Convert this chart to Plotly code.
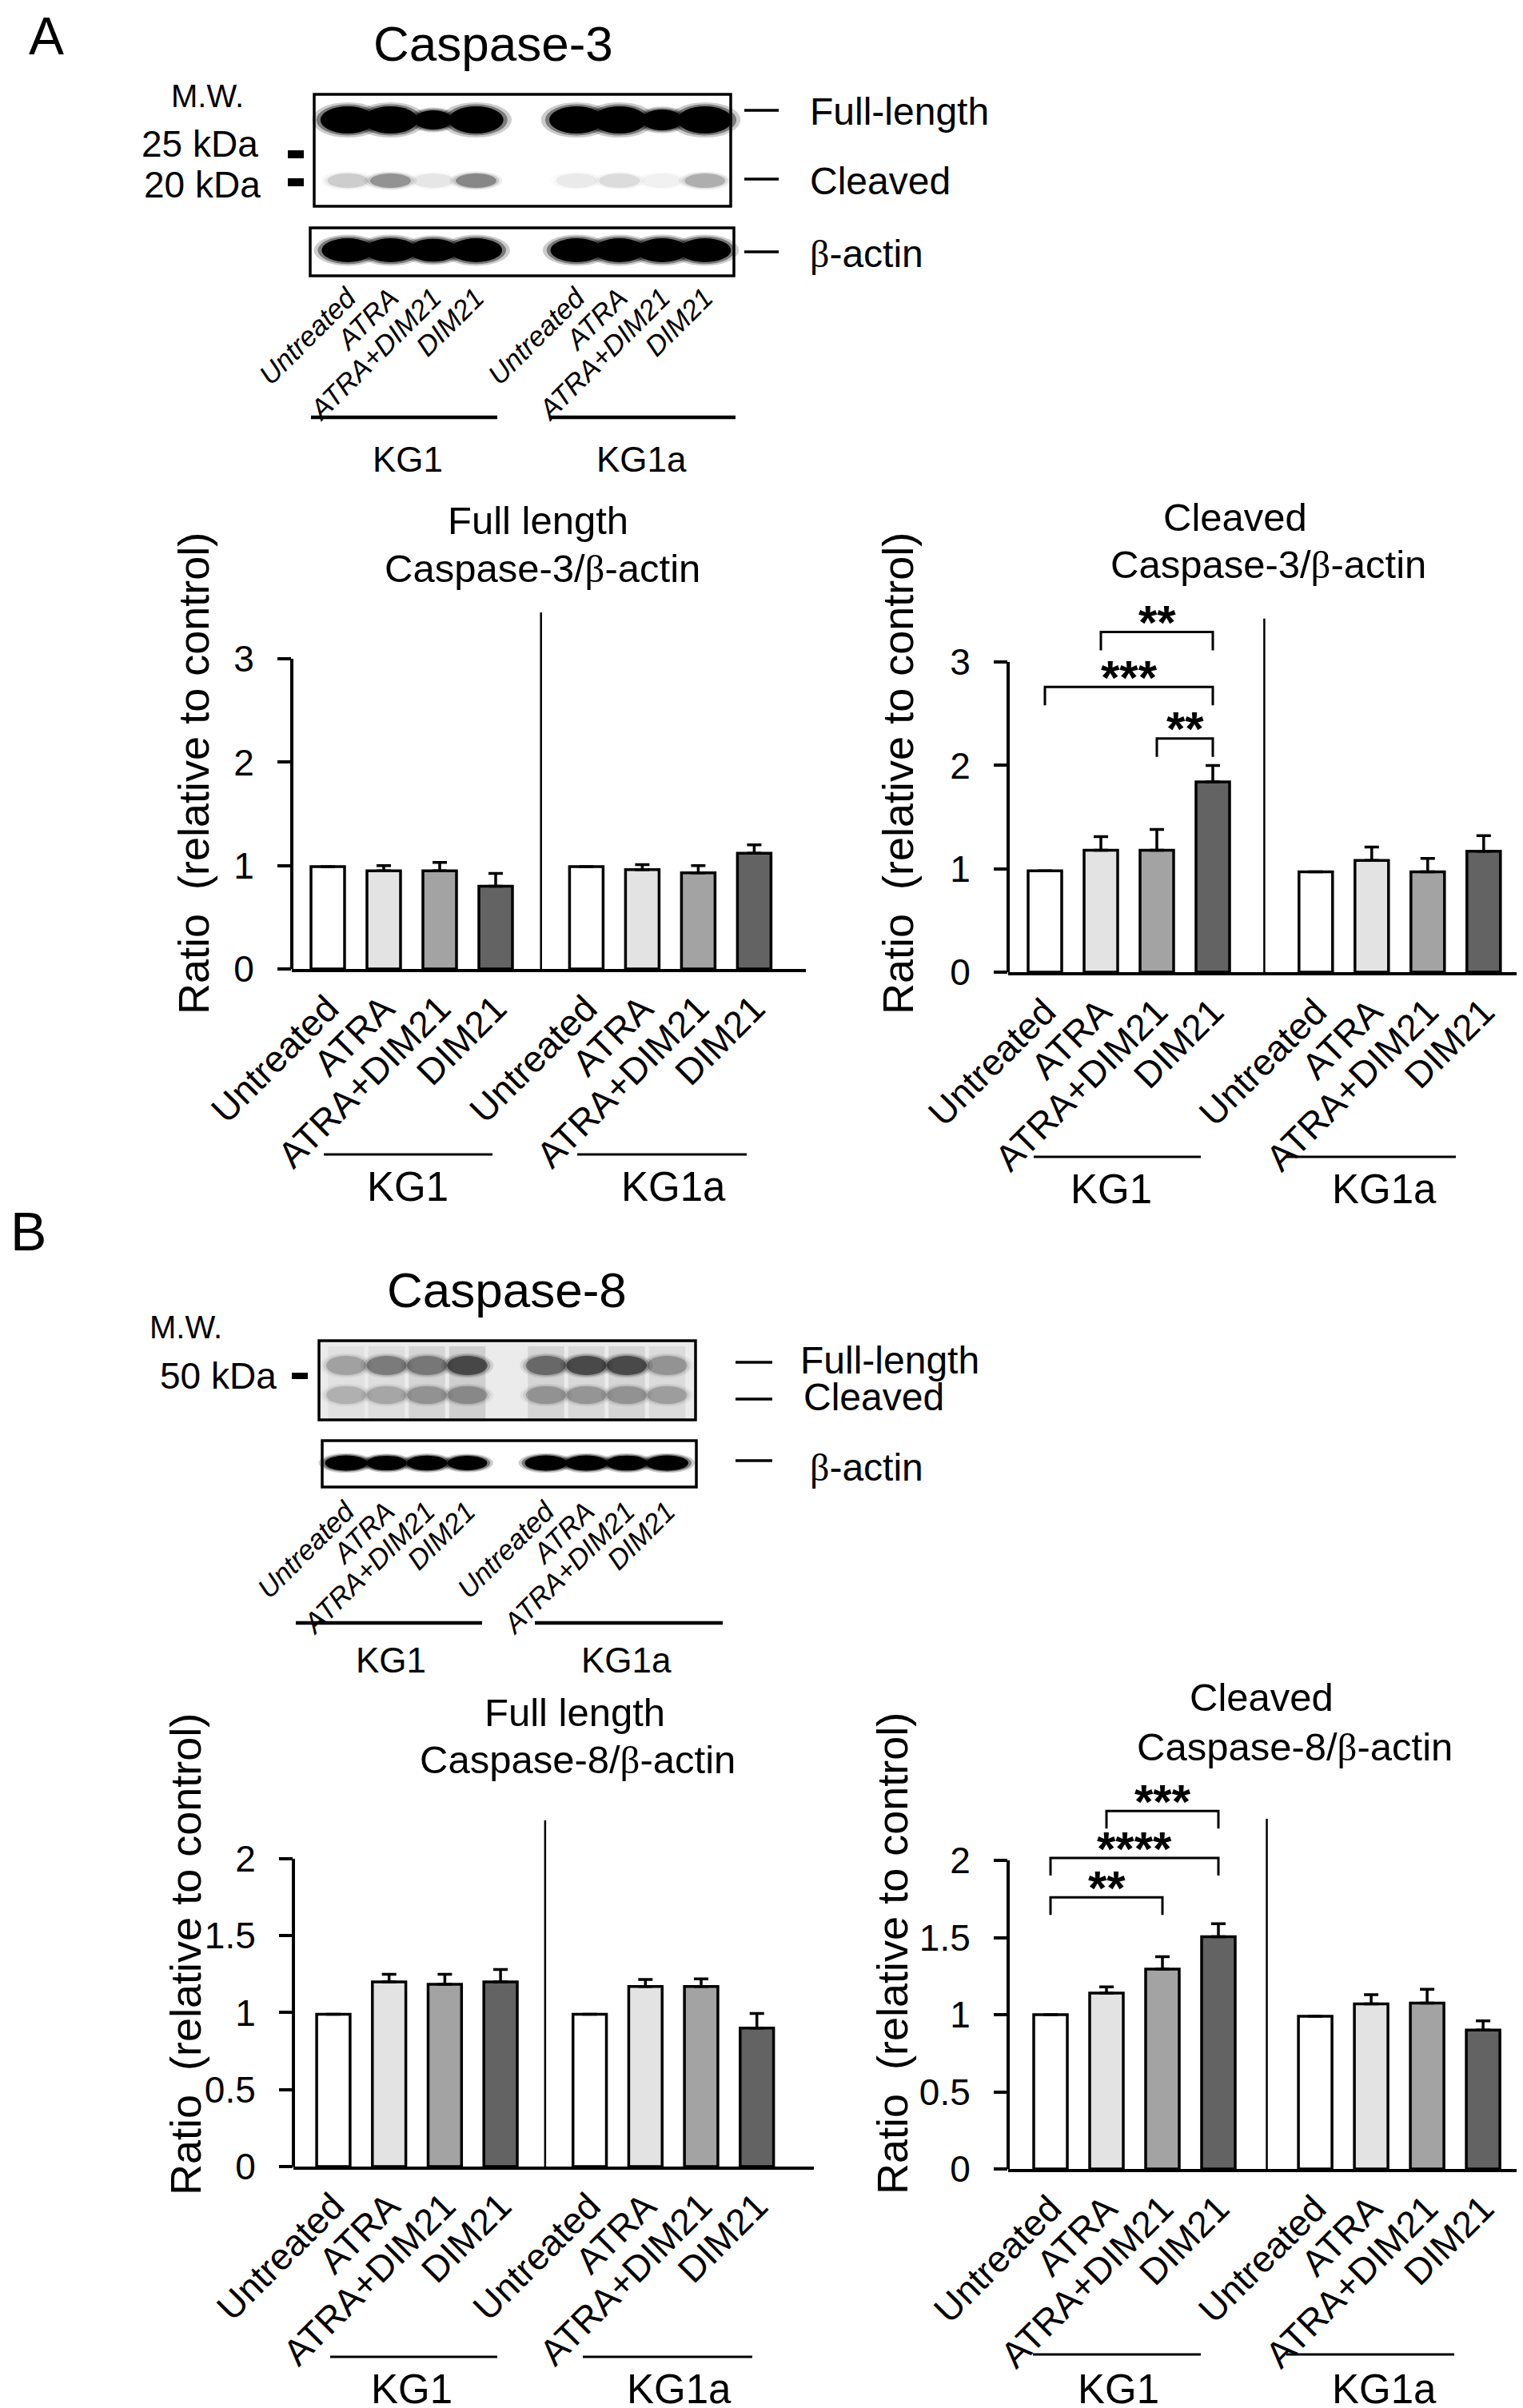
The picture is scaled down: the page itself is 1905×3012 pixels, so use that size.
import plotly.graph_objects as go

# Page size of the figure (px).
W, H = 1905, 3012
FONT = "Liberation Sans, Arial, Helvetica, sans-serif"
BETA = '<span style="font-family:Liberation Serif, serif">β</span>'

TREATMENTS = ["Untreated", "ATRA", "ATRA+DIM21", "DIM21"]
CELL_LINES = ["KG1", "KG1a"]
BAR_COLORS = ["#ffffff", "#e3e3e3", "#a3a3a3", "#636363"]

# Quantification, ratio relative to control (mean and upper error).
c3_full_kg1 = [0.99, 0.95, 0.95, 0.80]
c3_full_kg1_err = [0, 0.05, 0.08, 0.125]
c3_full_kg1a = [0.99, 0.96, 0.93, 1.12]
c3_full_kg1a_err = [0, 0.05, 0.07, 0.08]

c3_cleaved_kg1 = [0.98, 1.18, 1.18, 1.84]
c3_cleaved_kg1_err = [0, 0.13, 0.20, 0.16]
c3_cleaved_kg1a = [0.97, 1.08, 0.97, 1.17]
c3_cleaved_kg1a_err = [0, 0.13, 0.13, 0.15]

c8_full_kg1 = [0.99, 1.20, 1.185, 1.20]
c8_full_kg1_err = [0, 0.05, 0.065, 0.08]
c8_full_kg1a = [0.99, 1.17, 1.17, 0.90]
c8_full_kg1a_err = [0, 0.045, 0.05, 0.095]

c8_cleaved_kg1 = [1.0, 1.14, 1.295, 1.505]
c8_cleaved_kg1_err = [0, 0.04, 0.08, 0.085]
c8_cleaved_kg1a = [0.99, 1.07, 1.075, 0.90]
c8_cleaved_kg1a_err = [0, 0.06, 0.09, 0.06]

# Significance brackets inside KG1: (bar a, bar b, bracket height, stars).
c3_cleaved_sig = [(1, 3, 3.29, "**"), (0, 3, 2.76, "***"), (2, 3, 2.26, "**")]
c8_cleaved_sig = [(1, 3, 2.32, "***"), (0, 3, 2.015, "****"), (0, 2, 1.76, "**")]

# Western blot band intensities, 8 lanes (KG1 x4, KG1a x4).
c3_blot_full = [1.0, 1.0, 0.75, 1.0, 1.0, 1.0, 0.8, 1.0]
c3_blot_cleaved = [0.15, 0.35, 0.07, 0.4, 0.06, 0.1, 0.04, 0.25]
c3_blot_actin = [1.0, 1.0, 0.95, 1.0, 1.0, 1.0, 1.0, 1.0]

c8_blot_full = [0.3, 0.5, 0.5, 0.85, 0.6, 0.85, 0.85, 0.35]
c8_blot_cleaved = [0.3, 0.35, 0.45, 0.5, 0.45, 0.45, 0.45, 0.4]
c8_blot_smear = [0.15, 0.2, 0.35, 0.45, 0.35, 0.3, 0.35, 0.25]
c8_blot_actin = [1.0, 0.85, 0.9, 0.8, 1.0, 1.0, 0.95, 1.0]


def fx(p):
    return p / W


def fy(p):
    return 1 - p / H


shapes = []
annotations = []
axes = {}

fig = go.Figure()


def txt(x, y, text, size, xanchor="center", yanchor="middle", **kw):
    annotations.append(
        dict(
            x=fx(x), y=fy(y), xref="paper", yref="paper", text=text,
            showarrow=False, xanchor=xanchor, yanchor=yanchor,
            font=dict(size=size, family=FONT, color="black"), **kw,
        )
    )


def hline(x0, x1, y, width):
    shapes.append(dict(type="line", xref="paper", yref="paper",
                       x0=fx(x0), x1=fx(x1), y0=fy(y), y1=fy(y),
                       line=dict(color="black", width=width)))


def box(x0, y0, x1, y1, fill="rgba(0,0,0,0)", width=3.5):
    shapes.append(dict(type="rect", xref="paper", yref="paper",
                       x0=fx(x0), x1=fx(x1), y0=fy(y0), y1=fy(y1),
                       fillcolor=fill, line=dict(color="black", width=width)))


def bar_panel(n, kg1, kg1_err, kg1a, kg1a_err, yticks, geo, sig=()):
    xid = "x" if n == 1 else f"x{n}"
    yid = "y" if n == 1 else f"y{n}"
    pos = [i for i in range(4)] + [3 + geo["gap"] + i for i in range(4)]

    fig.add_trace(
        go.Bar(
            x=pos, y=kg1 + kg1a, width=0.6,
            marker=dict(color=BAR_COLORS * 2, line=dict(color="black", width=3.5)),
            error_y=dict(type="data", symmetric=False, array=kg1_err + kg1a_err,
                         arrayminus=[0] * 8, color="black", thickness=3.5, width=9),
            xaxis=xid, yaxis=yid, showlegend=False, hoverinfo="skip",
        )
    )

    unit, yunit = geo["unit"], geo["yunit"]
    axes["xaxis" if n == 1 else f"xaxis{n}"] = dict(
        domain=[fx(geo["axis"]), fx(geo["end"])],
        range=[(geo["axis"] - geo["bar0"]) / unit, (geo["end"] - geo["bar0"]) / unit],
        anchor=yid, showline=True, linecolor="black", linewidth=4,
        ticks="", tickvals=pos, ticktext=TREATMENTS * 2, tickangle=-45,
        tickfont=dict(size=46), showgrid=False, zeroline=False, automargin=False,
    )
    axes["yaxis" if n == 1 else f"yaxis{n}"] = dict(
        domain=[fy(geo["y0"]), fy(geo["y0"] - geo["ymax"] * yunit)],
        range=[0, geo["ymax"]], anchor=xid, showline=False,
        ticks="outside", ticklen=17, tickwidth=4, tickcolor="black",
        tickvals=yticks, ticktext=[f"{v:g}" for v in yticks],
        tickfont=dict(size=46), ticklabelstandoff=20,
        showgrid=False, zeroline=False, automargin=False,
    )

    # y axis line only up to the last tick
    shapes.append(dict(type="line", xref=f"{xid} domain", yref=yid,
                       x0=0, x1=0, y0=0, y1=yticks[-1],
                       line=dict(color="black", width=4)))
    # separator between cell lines
    xdiv = 3 + geo["gap"] / 2
    shapes.append(dict(type="line", xref=xid, yref=yid, x0=xdiv, x1=xdiv,
                       y0=0, y1=geo["divtop"], line=dict(color="black", width=2.5)))

    leg = geo["leg"] / yunit
    for a, b, top, stars in sig:
        shapes.append(dict(
            type="path", xref=xid, yref=yid,
            path=f"M {pos[a]},{top - leg} L {pos[a]},{top} L {pos[b]},{top} L {pos[b]},{top - leg}",
            line=dict(color="black", width=3)))
        annotations.append(dict(
            x=(pos[a] + pos[b]) / 2, y=top, xref=xid, yref=yid, text=stars,
            showarrow=False, yanchor="middle", yshift=geo["star_shift"],
            font=dict(size=60, family=FONT, color="black", weight="bold")))

    # titles, axis title, cell line groups
    t1, t2 = geo["titles"]
    txt(t1[0], t1[1], t1[2], 49)
    txt(t2[0], t2[1], t2[2], 49)
    txt(geo["ytitle"][0], geo["ytitle"][1],
        "Ratio\u00a0\u00a0(relative to control)", 54, textangle=-90)
    gy = geo["group_y"]
    for (x0, x1), (lx, ly), name in zip(geo["group_lines"], geo["group_labels"], CELL_LINES):
        hline(x0, x1, gy, 3)
        txt(lx, ly, name, 51)


def blot_axes(n, dom_x, dom_y, lane0, lane_unit, lanes):
    xid, yid = f"x{n}", f"y{n}"
    axes[f"xaxis{n}"] = dict(
        domain=[fx(dom_x[0]), fx(dom_x[1])],
        range=[(dom_x[0] - lane0) / lane_unit, (dom_x[1] - lane0) / lane_unit],
        anchor=yid, showline=False, ticks="", tickvals=lanes,
        ticktext=TREATMENTS * 2, tickangle=-45, ticklabelstandoff=0,
        tickfont=dict(size=35, style="italic"), showgrid=False, zeroline=False,
        automargin=False,
    )
    axes[f"yaxis{n}"] = dict(
        domain=[fy(dom_y[1]), fy(dom_y[0])], range=[dom_y[1], dom_y[0]],
        anchor=xid, visible=False, showgrid=False, zeroline=False, automargin=False,
    )
    # invisible trace so the subplot exists
    fig.add_trace(go.Scatter(x=lanes, y=[dom_y[0]] * 8, mode="markers",
                             marker=dict(opacity=0), xaxis=xid, yaxis=yid,
                             showlegend=False, hoverinfo="skip"))
    return xid, yid


def bands(xid, yid, lanes, levels, row_y, w, h, color="black", gain=1.0, grow=0.0):
    for lane, lvl in zip(lanes, levels):
        size = 1 - grow * (1 - lvl)
        op = min(1.0, lvl * gain)
        bw, bh = w * size, h * size
        # soft edge: a few stacked ellipses
        for k, o in ((1.3, 0.2), (1.15, 0.4), (1.0, 1.0)):
            shapes.append(dict(type="circle", xref=xid, yref=yid,
                               x0=lane - bw * k / 2, x1=lane + bw * k / 2,
                               y0=row_y - bh * k / 2, y1=row_y + bh * k / 2,
                               fillcolor=color, opacity=op * o, line=dict(width=0)))


# ---------------- Panel A: Caspase-3 blot ----------------
txt(50, 37, "A", 66)
txt(609, 47, "Caspase-3", 62)
txt(251, 112, "M.W.", 40)
txt(317, 172, "25 kDa", 46, xanchor="right")
txt(320, 223, "20 kDa", 46, xanchor="right")
box(352, 180, 372, 190, fill="black", width=0)
box(352, 215, 372, 225, fill="black", width=0)

lanes_a = [0, 1, 2, 3] + [5.35 + i for i in range(4)]
xa, ya = blot_axes(5, (370, 922), (100, 336), 427, 53.5, lanes_a)
bands(xa, ya, lanes_a, c3_blot_full, 142, 1.28, 34, gain=3, grow=1.2)
bands(xa, ya, lanes_a, c3_blot_cleaved, 218, 0.95, 18, color="#202020")
bands(xa, ya, lanes_a, c3_blot_actin, 305, 1.22, 30, gain=3, grow=1.0)
box(385, 110, 906, 250)
box(380, 277, 910, 337)

for y, label in ((130, "Full-length"), (216, "Cleaved"), (307, f"{BETA}-actin")):
    hline(923, 966, y, 3.5)
    txt(1003, y + 2, label, 48, xanchor="left")

hline(381, 614, 514, 4.5)
hline(680, 912, 514, 4.5)
txt(502, 566, "KG1", 44)
txt(794, 566, "KG1a", 44)

# ---------------- Panel A: quantification ----------------
bar_panel(
    1, c3_full_kg1, c3_full_kg1_err, c3_full_kg1a, c3_full_kg1a_err, [0, 1, 2, 3],
    dict(axis=357, bar0=402, unit=70, end=1000, y0=1204, yunit=129.3, ymax=3.6,
         gap=1.62, divtop=3.45, leg=23, star_shift=12,
         titles=((665, 643, "Full length"), (670, 703, f"Caspase-3/{BETA}-actin")),
         ytitle=(234, 960), group_y=1436,
         group_lines=((397, 608), (714, 926)), group_labels=((502, 1476), (834, 1476))),
)
bar_panel(
    2, c3_cleaved_kg1, c3_cleaved_kg1_err, c3_cleaved_kg1a, c3_cleaved_kg1a_err, [0, 1, 2, 3],
    dict(axis=1253, bar0=1299, unit=70, end=1895, y0=1208, yunit=129.3, ymax=3.6,
         gap=1.84, divtop=3.42, leg=23, star_shift=12,
         titles=((1537, 639, "Cleaved"), (1578, 698, f"Caspase-3/{BETA}-actin")),
         ytitle=(1115, 960), group_y=1439,
         group_lines=((1285, 1494), (1601, 1813)), group_labels=((1382, 1479), (1723, 1479))),
    sig=c3_cleaved_sig,
)

# ---------------- Panel B: Caspase-8 blot ----------------
txt(27, 1532, "B", 68)
txt(626, 1605, "Caspase-8", 62)
txt(224, 1652, "M.W.", 40)
txt(340, 1713, "50 kDa", 46, xanchor="right")
box(357, 1709, 377, 1717, fill="black", width=0)

lanes_b = [0, 1, 2, 3] + [4.95 + i for i in range(4)]
box(391, 1669, 862, 1768, fill="#ebebeb", width=0)
xb, yb = blot_axes(6, (378, 880), (1660, 1854), 425, 50.5, lanes_b)
for lane, lvl in zip(lanes_b, c8_blot_smear):
    shapes.append(dict(type="rect", xref=xb, yref=yb, x0=lane - 0.45, x1=lane + 0.45,
                       y0=1676, y1=1768, fillcolor="#707070", opacity=lvl * 0.5,
                       line=dict(width=0)))
bands(xb, yb, lanes_b, c8_blot_full, 1700, 1.0, 24, color="#1e1e1e", gain=0.75)
bands(xb, yb, lanes_b, c8_blot_cleaved, 1737, 1.0, 22, color="#2a2a2a", gain=0.6)
bands(xb, yb, lanes_b, c8_blot_actin, 1822, 1.05, 19, gain=1.3, grow=0.3)
box(391, 1669, 862, 1768)
box(395, 1794, 863, 1852)

for y, ty, tx, label in ((1696, 1694, 991, "Full-length"), (1742, 1739, 995, "Cleaved"),
                         (1819, 1827, 1003, f"{BETA}-actin")):
    hline(912, 958, y, 3.5)
    txt(tx, ty, label, 48, xanchor="left")

hline(362, 595, 2022, 4.5)
hline(661, 896, 2022, 4.5)
txt(481, 2068, "KG1", 44)
txt(775, 2068, "KG1a", 44)

# ---------------- Panel B: quantification ----------------
bar_panel(
    3, c8_full_kg1, c8_full_kg1_err, c8_full_kg1a, c8_full_kg1a_err, [0, 0.5, 1, 1.5, 2],
    dict(axis=359, bar0=409, unit=69.7, end=1010, y0=2702, yunit=192.5, ymax=2.35,
         gap=1.6, divtop=2.25, leg=22, star_shift=12,
         titles=((711, 2134, "Full length"), (714, 2193, f"Caspase-8/{BETA}-actin")),
         ytitle=(224, 2437), group_y=2940,
         group_lines=((405, 614), (721, 933)), group_labels=((507, 2980), (841, 2980))),
)
bar_panel(
    4, c8_cleaved_kg1, c8_cleaved_kg1_err, c8_cleaved_kg1a, c8_cleaved_kg1a_err, [0, 0.5, 1, 1.5, 2],
    dict(axis=1253, bar0=1306, unit=70, end=1898, y0=2705, yunit=193, ymax=2.45,
         gap=1.73, divtop=2.27, leg=22, star_shift=12,
         titles=((1570, 2115, "Cleaved"), (1611, 2177, f"Caspase-8/{BETA}-actin")),
         ytitle=(1108, 2436), group_y=2937,
         group_lines=((1284, 1494), (1601, 1811)), group_labels=((1391, 2980), (1723, 2980))),
    sig=c8_cleaved_sig,
)

fig.update_layout(
    width=W,
    height=H,
    autosize=False,
    margin=dict(l=0, r=0, t=0, b=0, pad=0, autoexpand=False),
    paper_bgcolor="white",
    plot_bgcolor="rgba(0,0,0,0)",
    showlegend=False,
    font=dict(family=FONT, color="black"),
    shapes=shapes,
    annotations=annotations,
    **axes,
)

fig.write_html("out.html")
